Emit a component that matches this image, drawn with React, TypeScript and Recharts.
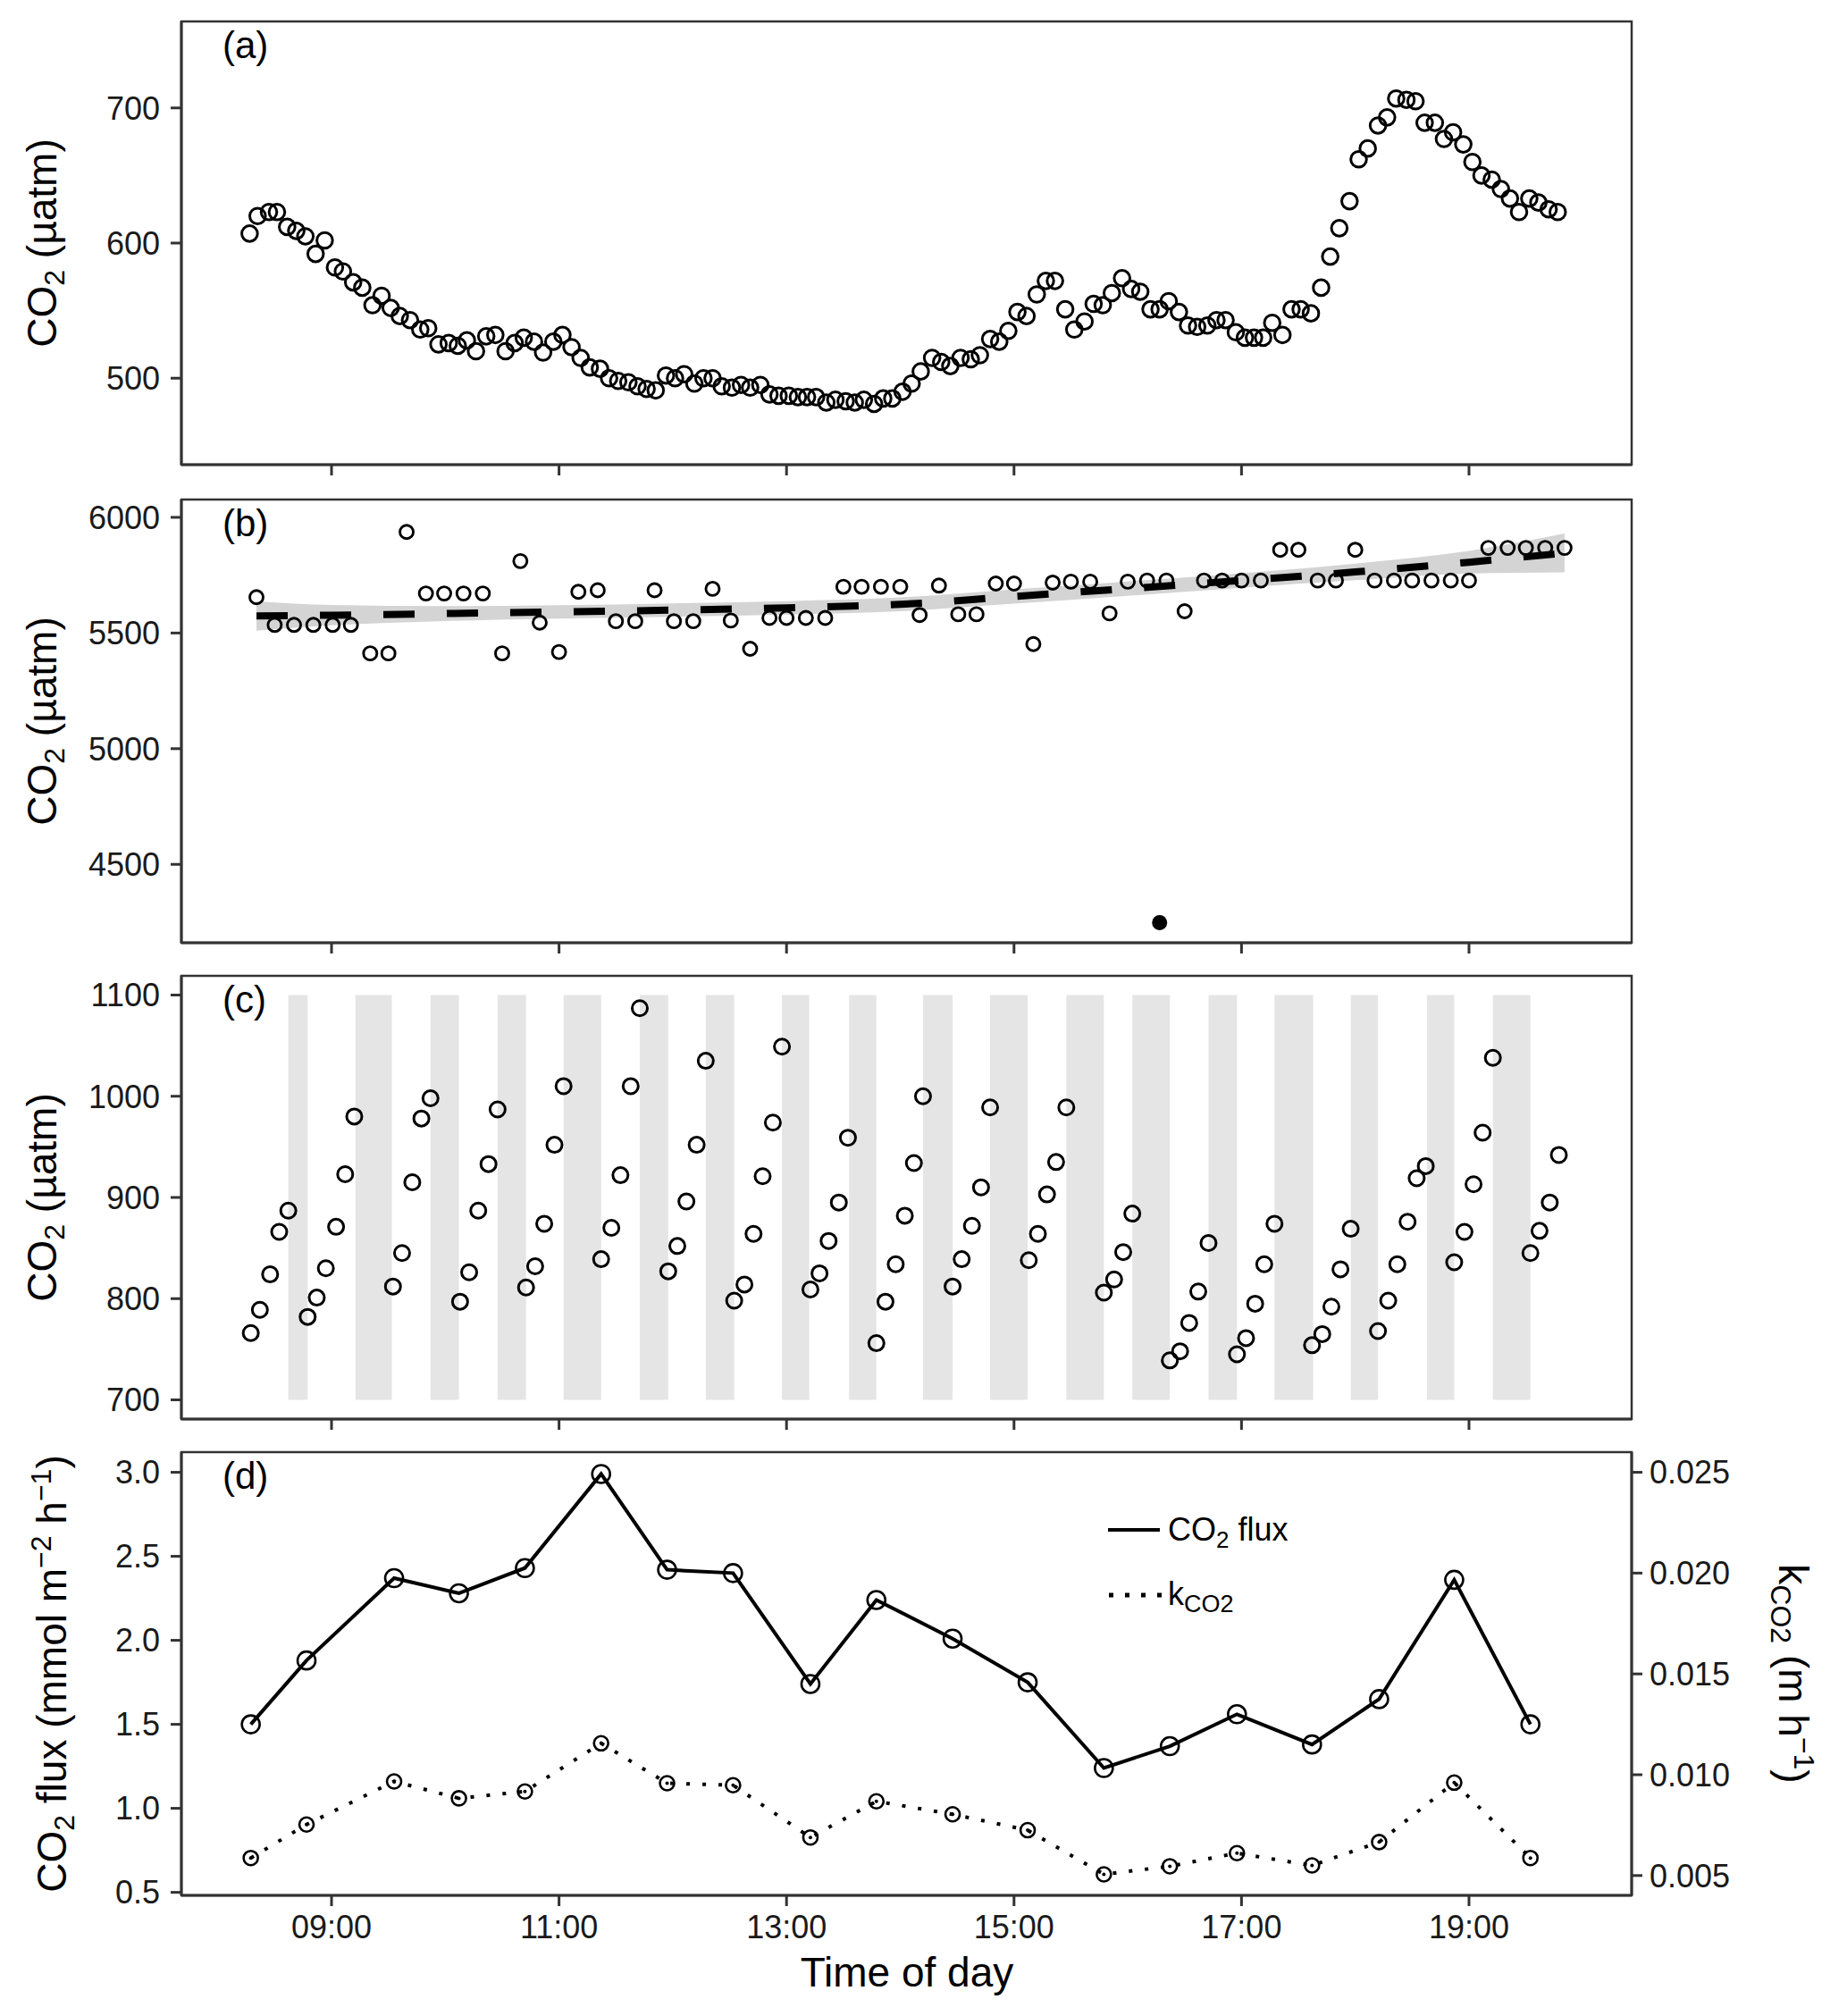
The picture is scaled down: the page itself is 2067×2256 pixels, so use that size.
import React from 'react';
import { ComposedChart, Scatter, Line, Area, XAxis, YAxis, ReferenceArea } from 'recharts';

// time of day in decimal hours
const aTime = [8.28, 8.35, 8.45, 8.52, 8.61, 8.69, 8.77, 8.86, 8.94, 9.03, 9.10, 9.19, 9.27, 9.36, 9.44, 9.52, 9.60, 9.69, 9.78, 9.85,
  9.94, 10.03, 10.11, 10.19, 10.27, 10.36, 10.44, 10.53, 10.61, 10.69, 10.78, 10.86, 10.95, 11.03, 11.11, 11.19, 11.27, 11.36, 11.44, 11.52,
  11.61, 11.69, 11.77, 11.85, 11.94, 12.02, 12.10, 12.19, 12.27, 12.35, 12.43, 12.52, 12.60, 12.68, 12.77, 12.85, 12.93, 13.02, 13.10, 13.18,
  13.26, 13.35, 13.43, 13.52, 13.60, 13.68, 13.77, 13.85, 13.93, 14.02, 14.10, 14.18, 14.28, 14.36, 14.44, 14.53, 14.62, 14.70, 14.79, 14.87,
  14.95, 15.03, 15.11, 15.20, 15.28, 15.36, 15.45, 15.53, 15.62, 15.70, 15.78, 15.86, 15.95, 16.03, 16.11, 16.20, 16.28, 16.36, 16.45, 16.53,
  16.61, 16.70, 16.78, 16.86, 16.95, 17.03, 17.11, 17.19, 17.27, 17.36, 17.44, 17.52, 17.61, 17.70, 17.78, 17.86, 17.95, 18.03, 18.11, 18.20,
  18.28, 18.36, 18.45, 18.53, 18.61, 18.70, 18.78, 18.86, 18.95, 19.03, 19.11, 19.20, 19.28, 19.36, 19.44, 19.53, 19.61, 19.70, 19.78];
const aCo2 = [607, 620, 623, 623, 612, 609, 605, 592, 602, 582, 579, 571, 567, 554, 561, 552, 546, 543, 536, 537,
  525, 526, 524, 528, 520, 531, 532, 520, 526, 530, 527, 519, 527, 532, 523, 515, 508, 507, 500, 498,
  497, 494, 492, 491, 502, 500, 503, 496, 500, 500, 494, 493, 495, 493, 495, 488, 487, 487, 486, 486,
  486, 482, 484, 483, 482, 484, 481, 485, 485, 490, 496, 505, 515, 512, 509, 515, 514, 517, 529, 527,
  535, 549, 546, 562, 572, 572, 551, 536, 542, 555, 554, 563, 574, 566, 564, 551, 551, 557, 549, 539,
  538, 539, 543, 543, 534, 530, 530, 530, 541, 532, 551, 551, 548, 567, 590, 611, 631, 662, 670, 687,
  693, 707, 706, 705, 689, 689, 677, 682, 673, 660, 650, 647, 640, 633, 623, 633, 630, 625, 623];

const bTime = [8.34, 8.50, 8.67, 8.84, 9.01, 9.17, 9.34, 9.50, 9.66, 9.83, 9.99, 10.16, 10.33, 10.50, 10.66, 10.83, 11.00, 11.17, 11.34, 11.50,
  11.67, 11.84, 12.01, 12.18, 12.35, 12.51, 12.68, 12.85, 13.00, 13.17, 13.34, 13.50, 13.66, 13.83, 14.00, 14.17, 14.34, 14.51, 14.67, 14.84,
  15.00, 15.17, 15.34, 15.50, 15.67, 15.84, 16.00, 16.17, 16.34, 16.50, 16.67, 16.83, 17.00, 17.17, 17.34, 17.50, 17.67, 17.83, 18.00, 18.17,
  18.34, 18.50, 18.67, 18.84, 19.00, 19.17, 19.34, 19.50, 19.67, 19.84];
const bCo2 = [5655, 5535, 5535, 5535, 5535, 5535, 5412, 5412, 5937, 5671, 5671, 5671, 5671, 5412, 5811, 5545, 5418, 5678, 5685, 5551,
  5551, 5685, 5551, 5551, 5691, 5554, 5432, 5565, 5565, 5565, 5565, 5700, 5700, 5700, 5700, 5578, 5705, 5581, 5581, 5714,
  5714, 5452, 5718, 5722, 5722, 5585, 5722, 5727, 5727, 5594, 5727, 5727, 5727, 5727, 5860, 5860, 5727, 5727, 5860, 5727,
  5727, 5727, 5727, 5727, 5727, 5868, 5868, 5868, 5868, 5868];
const bOutlierTime = [16.28];
const bOutlierCo2 = [4248];
const bFitTime = [8.34, 9, 10, 11, 12, 13, 14, 15, 16, 17, 18, 19, 19.84];
const bFit = [5574, 5577, 5584, 5591, 5599, 5609, 5624, 5658, 5692, 5727, 5764, 5806, 5846];
const bLo = [5510, 5533, 5552, 5562, 5570, 5580, 5594, 5627, 5661, 5696, 5728, 5757, 5762];
const bHi = [5638, 5621, 5616, 5620, 5628, 5638, 5654, 5689, 5723, 5758, 5800, 5855, 5930];

const cTime = [8.29, 8.37, 8.46, 8.54, 8.62, 8.79, 8.87, 8.95, 9.04, 9.12, 9.20, 9.54, 9.62, 9.71, 9.79, 9.87, 10.13, 10.21, 10.29, 10.38,
  10.46, 10.71, 10.79, 10.87, 10.96, 11.04, 11.37, 11.46, 11.54, 11.63, 11.71, 11.96, 12.04, 12.12, 12.21, 12.29, 12.54, 12.63, 12.71, 12.79,
  12.88, 12.96, 13.21, 13.29, 13.37, 13.46, 13.54, 13.79, 13.87, 13.96, 14.04, 14.12, 14.20, 14.46, 14.54, 14.63, 14.71, 14.79, 15.13, 15.21,
  15.29, 15.37, 15.46, 15.79, 15.88, 15.96, 16.04, 16.37, 16.46, 16.54, 16.62, 16.71, 16.96, 17.04, 17.12, 17.20, 17.29, 17.62, 17.71, 17.79,
  17.87, 17.96, 18.20, 18.29, 18.37, 18.46, 18.54, 18.62, 18.87, 18.96, 19.04, 19.12, 19.21, 19.54, 19.62, 19.71, 19.79];
const cCo2 = [766, 789, 824, 866, 887, 782, 801, 830, 871, 923, 980, 812, 845, 915, 978, 998, 797, 826, 887, 933,
  987, 811, 832, 874, 952, 1010, 839, 870, 922, 1010, 1087, 827, 852, 896, 952, 1035, 798, 814, 864, 921,
  974, 1049, 809, 825, 857, 895, 959, 756, 797, 834, 882, 934, 1000, 812, 839, 872, 910, 989, 838, 864,
  903, 935, 989, 806, 819, 846, 884, 739, 748, 776, 807, 855, 745, 761, 795, 834, 874, 754, 765, 792,
  829, 869, 768, 798, 834, 876, 919, 931, 836, 866, 913, 964, 1038, 845, 867, 895, 942];
const bandStart = [8.62, 9.21, 9.87, 10.46, 11.04, 11.71, 12.29, 12.96, 13.55, 14.20, 14.79, 15.46, 16.04, 16.71, 17.29, 17.96, 18.63, 19.21];
const bandEnd = [8.79, 9.53, 10.12, 10.71, 11.37, 11.96, 12.54, 13.20, 13.79, 14.46, 15.12, 15.79, 16.37, 16.96, 17.63, 18.20, 18.87, 19.54];

const dTime = [8.29, 8.78, 9.55, 10.12, 10.70, 11.37, 11.95, 12.53, 13.21, 13.79, 14.46, 15.12, 15.79, 16.37, 16.96, 17.62, 18.21, 18.87, 19.54];
const dFlux = [1.50, 1.88, 2.37, 2.28, 2.43, 2.99, 2.42, 2.40, 1.74, 2.24, 2.01, 1.75, 1.24, 1.37, 1.56, 1.38, 1.65, 2.36, 1.50];
const dK = [0.00587, 0.00753, 0.00967, 0.00883, 0.00917, 0.01156, 0.00958, 0.00948, 0.00689, 0.00868,
  0.00804, 0.00725, 0.00506, 0.00546, 0.00611, 0.0055, 0.00666, 0.00961, 0.00587];

const hourTicks = [9, 11, 13, 15, 17, 19];
const aTicks = [500, 600, 700];
const bTicks = [4500, 5000, 5500, 6000];
const cTicks = [700, 800, 900, 1000, 1100];
const fluxTicks = [0.5, 1.0, 1.5, 2.0, 2.5, 3.0];
const kTicks = [0.005, 0.01, 0.015, 0.02, 0.025];

const aRows = aTime.map((t, i) => ({ t, v: aCo2[i] }));
const bRows = bTime.map((t, i) => ({ t, v: bCo2[i] }));
const bOutRows = bOutlierTime.map((t, i) => ({ t, v: bOutlierCo2[i] }));
const bFitRows = bFitTime.map((t, i) => ({ t, fit: bFit[i], band: [bLo[i], bHi[i]] }));
const cRows = cTime.map((t, i) => ({ t, v: cCo2[i] }));
const dRows = dTime.map((t, i) => ({ t, flux: dFlux[i], k: dK[i] }));

const FONT = '"Liberation Sans", Arial, Helvetica, sans-serif';
const W = 2067;
const LEFT = 203;
const RIGHT = 1826;
const PH = 496;
const TOPS = [24, 559, 1092, 1625];
const X_DOMAIN = [7.68, 20.43];
const AX = '#333333';

const axisLine = { stroke: AX, strokeWidth: 3 };
const tickLine = { stroke: AX, strokeWidth: 3 };
const tickText = { fill: '#1a1a1a', fontSize: 36, fontFamily: FONT };

const ring = (r: number, sw: number) => (p: any) => (
  <circle cx={p.cx} cy={p.cy} r={r} fill="none" stroke="#000" strokeWidth={sw} />
);
const dotFill = (r: number) => (p: any) => <circle cx={p.cx} cy={p.cy} r={r} fill="#000" />;

const hhmm = (h: number) => `${String(h).padStart(2, '0')}:00`;

function timeAxis(labels: boolean) {
  return (
    <XAxis
      dataKey="t"
      type="number"
      domain={X_DOMAIN}
      ticks={hourTicks}
      allowDataOverflow
      height={labels ? 60 : 30}
      tickSize={12}
      tickMargin={10}
      axisLine={axisLine}
      tickLine={tickLine}
      tick={tickText}
      tickFormatter={labels ? hhmm : () => ''}
    />
  );
}

function leftAxis(domain: number[], ticks: number[], id?: string, fmt?: (v: number) => string) {
  return (
    <YAxis
      yAxisId={id ?? 0}
      type="number"
      domain={domain}
      ticks={ticks}
      allowDataOverflow
      width={LEFT}
      tickSize={12}
      tickMargin={12}
      axisLine={axisLine}
      tickLine={tickLine}
      tick={tickText}
      tickFormatter={fmt}
    />
  );
}

const chartBox = (i: number): React.CSSProperties => ({ position: 'absolute', left: 0, top: TOPS[i] - 10 });
const margin = { top: 10, right: W - RIGHT, bottom: 0, left: 0 };

function Co2Label({ x, y }: { x: number; y: number }) {
  return (
    <text transform={`translate(${x},${y}) rotate(-90)`} textAnchor="middle" fontSize={46} fontFamily={FONT} fill="#000">
      CO<tspan dy={9} fontSize={32}>2</tspan>
      <tspan dy={-9}> (µatm)</tspan>
    </text>
  );
}

export default function App() {
  return (
    <div style={{ position: 'absolute', left: 0, top: 0, width: W, height: 2256, background: '#fff' }}>
      {/* (a) */}
      <div style={chartBox(0)}>
        <ComposedChart width={W} height={10 + PH + 30} margin={margin}>
          {timeAxis(false)}
          {leftAxis([436, 764], aTicks)}
          <Scatter data={aRows} dataKey="v" shape={ring(8.8, 3)} isAnimationActive={false} />
        </ComposedChart>
      </div>

      {/* (b) */}
      <div style={chartBox(1)}>
        <ComposedChart width={W} height={10 + PH + 30} margin={margin} data={bFitRows}>
          {timeAxis(false)}
          {leftAxis([4161, 6077], bTicks)}
          <Scatter data={bRows} dataKey="v" shape={ring(7.5, 2.9)} isAnimationActive={false} />
          <Scatter data={bOutRows} dataKey="v" shape={dotFill(8.5)} isAnimationActive={false} />
          <Area type="monotone" dataKey="band" stroke="none" fill="#999999" fillOpacity={0.42} isAnimationActive={false} activeDot={false} />
          <Line type="monotone" dataKey="fit" stroke="#000" strokeWidth={8} strokeDasharray="35 36" dot={false} activeDot={false} isAnimationActive={false} />
        </ComposedChart>
      </div>

      {/* (c) */}
      <div style={chartBox(2)}>
        <ComposedChart width={W} height={10 + PH + 30} margin={margin}>
          {timeAxis(false)}
          {leftAxis([681, 1119], cTicks)}
          {bandStart.map((s, i) => (
            <ReferenceArea key={`band-${i}`} x1={s} x2={bandEnd[i]} y1={700} y2={1100} fill="#e5e5e5" fillOpacity={1} stroke="none" />
          ))}
          <Scatter data={cRows} dataKey="v" shape={ring(8.5, 3)} isAnimationActive={false} />
        </ComposedChart>
      </div>

      {/* (d) */}
      <div style={chartBox(3)}>
        <ComposedChart width={W} height={10 + PH + 60} margin={{ ...margin, right: 0 }} data={dRows}>
          {timeAxis(true)}
          {leftAxis([0.482, 3.12], fluxTicks, 'flux', (v) => v.toFixed(1))}
          <YAxis
            yAxisId="k"
            orientation="right"
            type="number"
            domain={[0.004017, 0.026]}
            ticks={kTicks}
            allowDataOverflow
            width={W - RIGHT}
            tickSize={12}
            tickMargin={8}
            axisLine={axisLine}
            tickLine={tickLine}
            tick={tickText}
            tickFormatter={(v: number) => v.toFixed(3)}
          />
          <Line
            yAxisId="flux"
            type="linear"
            dataKey="flux"
            stroke="#000"
            strokeWidth={4}
            dot={(p: any) => <circle key={`f-${p.index}`} cx={p.cx} cy={p.cy} r={10} fill="none" stroke="#000" strokeWidth={2.6} />}
            activeDot={false}
            isAnimationActive={false}
          />
          <Line
            yAxisId="k"
            type="linear"
            dataKey="k"
            stroke="#000"
            strokeWidth={4}
            strokeDasharray="4 14"
            dot={(p: any) => (
              <g key={`k-${p.index}`}>
                <circle cx={p.cx} cy={p.cy} r={8} fill="none" stroke="#000" strokeWidth={2.6} />
                <circle cx={p.cx} cy={p.cy} r={2} fill="#000" />
              </g>
            )}
            activeDot={false}
            isAnimationActive={false}
          />
        </ComposedChart>
      </div>

      {/* frames, titles, panel tags, legend */}
      <svg width={W} height={2256} style={{ position: 'absolute', left: 0, top: 0, pointerEvents: 'none' }}>
        {TOPS.map((top, i) => (
          <rect key={`frame-${i}`} x={LEFT} y={top} width={RIGHT - LEFT} height={PH} fill="none" stroke={AX} strokeWidth={2.5} />
        ))}
        {['(a)', '(b)', '(c)', '(d)'].map((s, i) => (
          <text key={`tag-${i}`} x={249} y={TOPS[i] + 41} fontSize={42} fontFamily={FONT} fill="#000">{s}</text>
        ))}
        <Co2Label x={63} y={TOPS[0] + PH / 2} />
        <Co2Label x={63} y={TOPS[1] + PH / 2} />
        <Co2Label x={63} y={TOPS[2] + PH / 2} />
        <text transform={`translate(74,${TOPS[3] + PH / 2}) rotate(-90)`} textAnchor="middle" fontSize={46} fontFamily={FONT} fill="#000">
          CO<tspan dy={9} fontSize={32}>2</tspan>
          <tspan dy={-9}> flux (mmol m</tspan>
          <tspan dy={-17} fontSize={32}>−2</tspan>
          <tspan dy={17}> h</tspan>
          <tspan dy={-17} fontSize={32}>−1</tspan>
          <tspan dy={17}>)</tspan>
        </text>
        <text transform={`translate(1991,${TOPS[3] + PH / 2}) rotate(90)`} textAnchor="middle" fontSize={46} fontFamily={FONT} fill="#000">
          k<tspan dy={9} fontSize={32}>CO2</tspan>
          <tspan dy={-9}> (m h</tspan>
          <tspan dy={-17} fontSize={32}>−1</tspan>
          <tspan dy={17}>)</tspan>
        </text>
        <text x={1015} y={2223} textAnchor="middle" fontSize={46} fontFamily={FONT} fill="#000">Time of day</text>

        <line x1={1240} x2={1298} y1={1712} y2={1712} stroke="#000" strokeWidth={4} />
        <text x={1307} y={1724} fontSize={36} fontFamily={FONT} fill="#000">
          CO<tspan dy={8} fontSize={26}>2</tspan>
          <tspan dy={-8}> flux</tspan>
        </text>
        <line x1={1241} x2={1300} y1={1785} y2={1785} stroke="#000" strokeWidth={5} strokeDasharray="5 13" />
        <text x={1307} y={1796} fontSize={36} fontFamily={FONT} fill="#000">
          k<tspan dy={8} fontSize={27}>CO2</tspan>
        </text>
      </svg>
    </div>
  );
}
